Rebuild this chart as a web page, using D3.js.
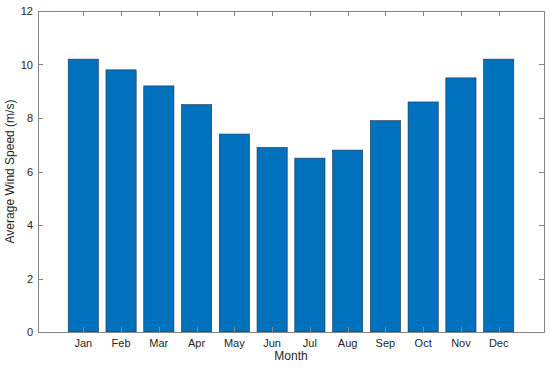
<!DOCTYPE html>
<html>
<head>
<meta charset="utf-8">
<script src="https://cdn.jsdelivr.net/npm/d3@7"></script>
<style>
  body { margin: 0; background: #fff; }
  svg text { font-family: "Liberation Sans", Arial, sans-serif; fill: #262626; }
</style>
</head>
<body>
<svg id="chart" width="550" height="368"></svg>
<script>
// monthly averages
var months = ["Jan","Feb","Mar","Apr","May","Jun","Jul","Aug","Sep","Oct","Nov","Dec"];
var windSpeed = [10.2, 9.8, 9.2, 8.5, 7.4, 6.9, 6.5, 6.8, 7.9, 8.6, 9.5, 10.2];
var yTicks = [0, 2, 4, 6, 8, 10, 12];

var svg = d3.select("#chart"),
    pLeft = 38, pRight = 544, pTop = 11, pBottom = 332;

var x = d3.scaleLinear().domain([-0.2, 13.2]).range([pLeft, pRight]);
var y = d3.scaleLinear().domain([0, 12]).range([pBottom, pTop]);
var axisCol = "#858585";

// bars
svg.selectAll(".bar")
  .data(windSpeed)
  .enter().append("rect")
  .attr("class", "bar")
  .attr("x", function(d, i) { return x(i + 1 - 0.4); })
  .attr("width", x(0.8) - x(0))
  .attr("y", function(d) { return y(d); })
  .attr("height", function(d) { return y(0) - y(d); })
  .attr("fill", "#0072BD")
  .attr("stroke", "#1a3550")
  .attr("stroke-width", 0.6);

// box
svg.append("rect")
  .attr("x", pLeft + 0.5).attr("y", pTop + 0.5)
  .attr("width", pRight - pLeft).attr("height", pBottom - pTop)
  .attr("fill", "none").attr("stroke", axisCol).attr("stroke-width", 1);

var tl = 5;
var g = svg.append("g").attr("stroke", axisCol).attr("stroke-width", 1);

// y ticks, left and right, pointing in
yTicks.forEach(function(t) {
  var yy = Math.round(y(t)) + 0.5;
  g.append("line").attr("x1", pLeft).attr("x2", pLeft + tl).attr("y1", yy).attr("y2", yy);
  g.append("line").attr("x1", pRight).attr("x2", pRight - tl).attr("y1", yy).attr("y2", yy);
});

// x ticks, bottom and top
months.forEach(function(m, i) {
  var xx = Math.round(x(i + 1)) + 0.5;
  g.append("line").attr("x1", xx).attr("x2", xx).attr("y1", pBottom).attr("y2", pBottom - tl);
  g.append("line").attr("x1", xx).attr("x2", xx).attr("y1", pTop).attr("y2", pTop + tl);
});

svg.selectAll(".ylab")
  .data(yTicks)
  .enter().append("text")
  .attr("x", pLeft - 5)
  .attr("y", function(d) { return y(d) + 4; })
  .attr("text-anchor", "end")
  .attr("font-size", 11)
  .text(function(d) { return d; });

svg.selectAll(".xlab")
  .data(months)
  .enter().append("text")
  .attr("x", function(d, i) { return x(i + 1); })
  .attr("y", pBottom + 15)
  .attr("text-anchor", "middle")
  .attr("font-size", 11)
  .text(function(d) { return d; });

svg.append("text")
  .attr("x", (pLeft + pRight) / 2)
  .attr("y", 360)
  .attr("text-anchor", "middle")
  .attr("font-size", 12)
  .text("Month");

svg.append("text")
  .attr("transform", "translate(14," + ((pTop + pBottom) / 2) + ") rotate(-90)")
  .attr("text-anchor", "middle")
  .attr("font-size", 12)
  .text("Average Wind Speed (m/s)");
</script>
</body>
</html>
